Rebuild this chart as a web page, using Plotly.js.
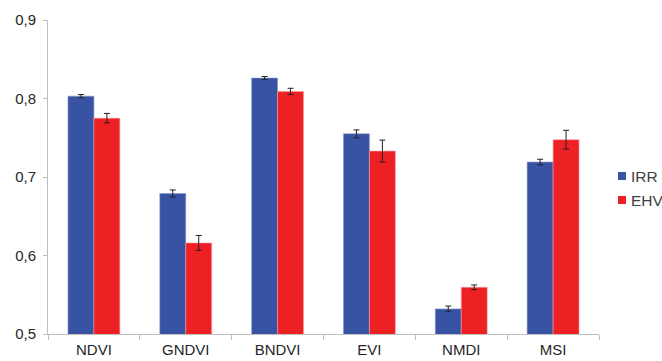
<!DOCTYPE html>
<html>
<head>
<meta charset="utf-8">
<script src="https://cdn.plot.ly/plotly-3.0.1.min.js"></script>
<style>html,body{margin:0;padding:0;background:#fff;}#chart{width:662px;height:361px;}</style>
</head>
<body>
<div id="chart"></div>
<script>
const categories = ["NDVI", "GNDVI", "BNDVI", "EVI", "NMDI", "MSI"];
const irrValues = [0.803, 0.679, 0.826, 0.755, 0.532, 0.719];
const irrErrors = [0.002, 0.0045, 0.002, 0.005, 0.0036, 0.0036];
const ehvValues = [0.775, 0.616, 0.809, 0.733, 0.5595, 0.7475];
const ehvErrors = [0.006, 0.0095, 0.004, 0.014, 0.003, 0.012];
const seriesNames = ["IRR", "EHV"];
const seriesColors = ["#3953A4", "#ED2024"];
const yTicks = [0.5, 0.6, 0.7, 0.8, 0.9];
const yTickLabels = ["0,5", "0,6", "0,7", "0,8", "0,9"];

const errStyle = {type: "data", visible: true, color: "#222222", thickness: 1, width: 3};
const traces = [
  {type: "bar", name: seriesNames[0], x: categories, y: irrValues,
   error_y: Object.assign({array: irrErrors}, errStyle),
   marker: {color: seriesColors[0], line: {color: "#8a98c8", width: 0.6}}},
  {type: "bar", name: seriesNames[1], x: categories, y: ehvValues,
   error_y: Object.assign({array: ehvErrors}, errStyle),
   marker: {color: seriesColors[1], line: {color: "#f5a0a2", width: 0.6}}}
];

// custom legend (small squares + labels)
const W = 662, H = 361, ml = 48, mr = 63, mt = 20, mb = 27;
const pw = W - ml - mr, ph = H - mt - mb;
const px = v => (v - ml) / pw;
const py = v => 1 - (v - mt) / ph;
const legendY = [176, 200];
const shapes = [], annotations = [];
seriesNames.forEach((n, i) => {
  shapes.push({type: "rect", xref: "paper", yref: "paper",
    x0: px(618), x1: px(626), y0: py(legendY[i] + 4), y1: py(legendY[i] - 4),
    fillcolor: seriesColors[i], line: {width: 0}});
  annotations.push({xref: "paper", yref: "paper", x: px(629), y: py(legendY[i]),
    xanchor: "left", yanchor: "middle", text: n, showarrow: false,
    font: {size: 15.5, color: "#404040"}});
});

const layout = {
  width: W, height: H,
  margin: {l: ml, r: mr, t: mt, b: mb},
  paper_bgcolor: "#fff", plot_bgcolor: "#fff",
  font: {family: "Liberation Sans, Arial, sans-serif", size: 15, color: "#404040"},
  barmode: "group",
  bargap: 0.435,
  bargroupgap: 0,
  showlegend: false,
  shapes: shapes,
  annotations: annotations,
  xaxis: {
    type: "category", showgrid: false, showline: true, linecolor: "#bfbfbf", linewidth: 1,
    ticks: "outside", tickson: "boundaries", ticklen: 5, tickcolor: "#bfbfbf",
    ticklabelstandoff: 2,
    tickfont: {size: 15, color: "#262626"}, fixedrange: true
  },
  yaxis: {
    range: [0.5, 0.9], tickvals: yTicks, ticktext: yTickLabels,
    showgrid: false, zeroline: false, showline: true, linecolor: "#bfbfbf", linewidth: 1,
    ticks: "outside", ticklen: 4, tickcolor: "#bfbfbf",
    ticklabelstandoff: 4,
    tickfont: {size: 15, color: "#262626"}, fixedrange: true
  }
};

Plotly.newPlot("chart", traces, layout, {displayModeBar: false, staticPlot: true});
</script>
</body>
</html>
